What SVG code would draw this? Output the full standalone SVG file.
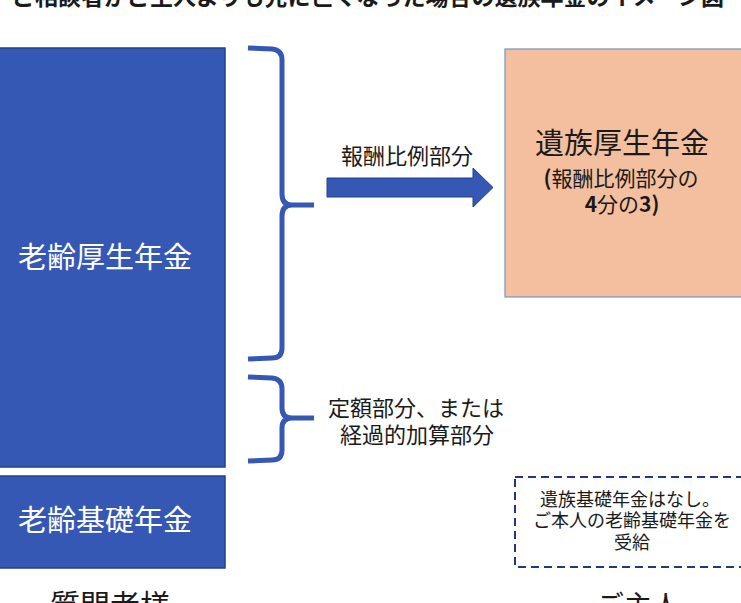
<svg xmlns="http://www.w3.org/2000/svg" width="741" height="603" viewBox="0 0 741 603">
<style>
.t{font-family:"Noto Sans CJK JP","Noto Sans",sans-serif;text-anchor:middle;}
.w{fill:#ffffff;}
.k{fill:#1a1a1a;}
.blue{fill:#3658B5;stroke:#23408A;stroke-width:1.5;}
.brace{fill:none;stroke:#3658B5;stroke-width:5;stroke-linecap:butt;stroke-linejoin:round;}
.b{font-weight:bold;}
</style>
<rect width="741" height="603" fill="#ffffff"/>
<g id="title">
<text class="t k" x="368" y="5" font-size="23" font-weight="bold">ご相談者がご主人よりも先に亡くなった場合の遺族年金のイメージ図</text>
</g>
<g id="roureikousei">
<rect class="blue" x="-2" y="48" width="227" height="419"/>
<text class="t w" x="105" y="268" font-size="29">老齢厚生年金</text>
</g>
<g id="roureikiso">
<rect class="blue" x="-2" y="476" width="227" height="92"/>
<text class="t w" x="105" y="531" font-size="29">老齢基礎年金</text>
</g>
<g id="izokukousei">
<rect x="505" y="49" width="240" height="248" fill="#F4BF9E" stroke="#6E97CF" stroke-width="1.2"/>
<text class="t k" x="622" y="154" font-size="29">遺族厚生年金</text>
<text class="t k" x="621" y="186" font-size="21"><tspan class="b">(</tspan>報酬比例部分の</text>
<text class="t k" x="622" y="212" font-size="21"><tspan class="b">4</tspan>分の<tspan class="b">3)</tspan></text>
</g>
<g id="izokukiso">
<rect x="515" y="477" width="240" height="90" fill="none" stroke="#1F3A7A" stroke-width="2" stroke-dasharray="8,5"/>
<text class="t k" x="630" y="506" font-size="18">遺族基礎年金はなし。</text>
<text class="t k" x="632" y="527" font-size="18">ご本人の老齢基礎年金を</text>
<text class="t k" x="632" y="549" font-size="18">受給</text>
</g>
<g id="labels">
<text class="t k" x="110" y="616" font-size="30">質問者様</text>
<text class="t k" x="638" y="616" font-size="28">ご主人</text>
</g>
<g id="connectors">
<path class="brace" d="M248,48 L272,49 Q282,50 282,60 L282,194 Q282,205 292,205 L314,205 M292,205 Q282,205 282,216 L282,348 Q282,358 272,358 L248,359"/>
<path class="brace" d="M248,377 L272,378 Q282,379 282,389 L282,408 Q282,418 292,418 L314,418 M292,418 Q282,418 282,428 L282,450 Q282,460 272,460 L248,461"/>
<path d="M327,178 L473,178 L473,168 L493,187.5 L473,207 L473,197 L327,197 Z" fill="#3658B5" stroke="#23408A" stroke-width="1"/>
<text class="t k" x="407" y="164" font-size="22">報酬比例部分</text>
<text class="t k" x="416" y="416" font-size="22">定額部分、または</text>
<text class="t k" x="417" y="443" font-size="22">経過的加算部分</text>
</g>
</svg>
